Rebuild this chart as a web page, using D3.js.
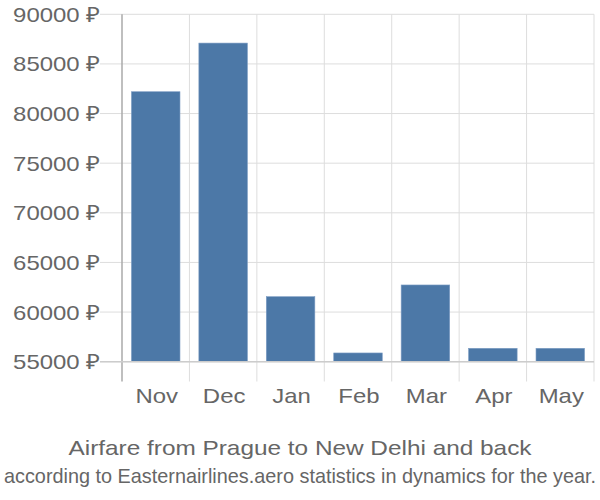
<!DOCTYPE html>
<html><head><meta charset="utf-8">
<script src="https://cdn.jsdelivr.net/npm/d3@7"></script>
<style>body{margin:0;background:#fff}svg{display:block}text{font-family:"Liberation Sans",Arial,sans-serif;fill:#666}</style>
</head><body><svg id="c" width="600" height="500"></svg>
<script>
const categories = ["Nov","Dec","Jan","Feb","Mar","Apr","May"];
const values = [82200, 87100, 61550, 55880, 62730, 56350, 56350];
const yTicks = [55000,60000,65000,70000,75000,80000,85000,90000];
const title = "Airfare from Prague to New Delhi and back";
const subtitle = "according to Easternairlines.aero statistics in dynamics for the year.";

const svg = d3.select("#c");
const L = 122, R = 594, T = 14.3, B = 361.7;
const x = d3.scaleBand().domain(categories).range([L, R]).paddingInner(0.28).paddingOuter(0.14);
const xg = d3.scaleBand().domain(categories).range([L, R]);
const y = d3.scaleLinear().domain([55000, 90000]).range([B, T]);
const stretch = 1.14;

svg.append("g").selectAll("line").data(yTicks).join("line")
  .attr("x1", 100).attr("x2", R).attr("y1", d => y(d)).attr("y2", d => y(d))
  .attr("stroke", "#ddd").attr("stroke-width", 1);
svg.append("g").selectAll("line").data(categories).join("line")
  .attr("x1", (d,i) => L + (i+1)*xg.step()).attr("x2", (d,i) => L + (i+1)*xg.step())
  .attr("y1", T).attr("y2", 381.5).attr("stroke", "#ddd").attr("stroke-width", 1);
svg.append("line").attr("x1", L).attr("x2", L).attr("y1", T).attr("y2", 381.5)
  .attr("stroke", "#aaa").attr("stroke-width", 1.5);

svg.append("g").selectAll("rect").data(values).join("rect")
  .attr("x", (d,i) => x(categories[i])).attr("width", x.bandwidth())
  .attr("y", d => y(d)).attr("height", d => B - y(d))
  .attr("fill", "#4c78a7").attr("stroke", "#7d9dc4").attr("stroke-width", 0.6);

svg.append("line").attr("x1", 100).attr("x2", R).attr("y1", B).attr("y2", B)
  .attr("stroke", "#ccc").attr("stroke-width", 1.5);

function stretchText(sel) {
  sel.each(function() {
    const w = this.getComputedTextLength();
    d3.select(this).attr("textLength", w * stretch).attr("lengthAdjust", "spacingAndGlyphs");
  });
}
svg.append("g").selectAll("text").data(yTicks).join("text")
  .attr("x", 100).attr("y", d => y(d)).attr("dy", "0.36em").attr("text-anchor", "end")
  .attr("font-size", 21).text(d => d + " ₽").call(stretchText);
svg.append("g").selectAll("text").data(categories).join("text")
  .attr("x", d => xg(d) + xg.bandwidth()/2 + 1).attr("y", 403.3).attr("text-anchor", "middle")
  .attr("font-size", 21).text(d => d).call(stretchText);

svg.append("text").attr("x", 300).attr("y", 455).attr("text-anchor", "middle")
  .attr("font-size", 21).attr("textLength", 463).attr("lengthAdjust", "spacingAndGlyphs").text(title);
svg.append("text").attr("transform", "translate(300,483) scale(1,1.15)").attr("text-anchor", "middle")
  .attr("font-size", 18).attr("textLength", 592).attr("lengthAdjust", "spacingAndGlyphs").text(subtitle);
</script></body></html>
